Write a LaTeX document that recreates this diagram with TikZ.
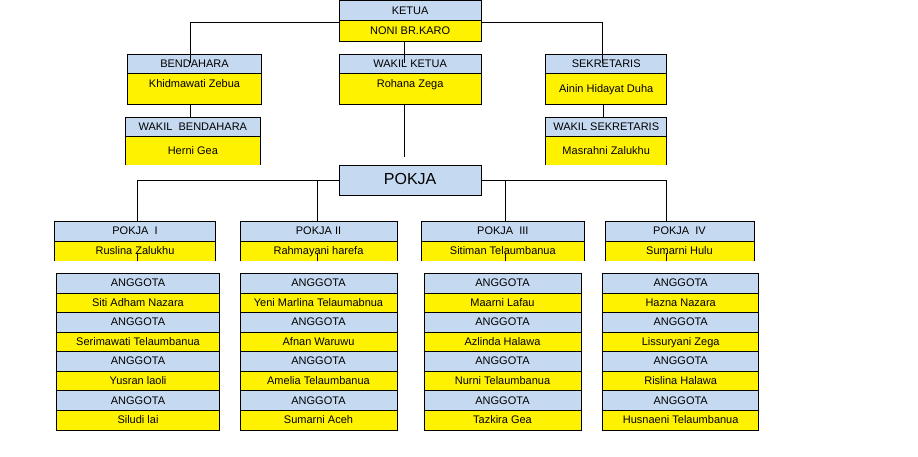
\documentclass[tikz,border=0pt]{standalone}
\usepackage{fontspec}
\setmainfont{Liberation Sans}
\definecolor{hdrblue}{RGB}{197,217,241}
\tikzset{
  box/.style={rectangle, draw, line width=0.8pt, inner sep=0pt, outer sep=0pt,
    anchor=north west, text height=8.8pt, text depth=2pt,
    font=\fontsize{11}{13}\selectfont},
  hdr/.style={box, fill=hdrblue},
  nm/.style={box, fill=yellow},
  nobase/.style={draw=none},
  link/.style={line width=0.8pt},
}
\begin{document}
\begin{tikzpicture}[x=1pt,y=1pt]
   \useasboundingbox (0,0) rectangle (918,-456);
   % pengurus inti
   \node[hdr, minimum width=141.7pt, minimum height=20pt] (ketua) at (339.3,-0.7) {KETUA};
   \node[nm, minimum width=141.7pt, minimum height=20.6pt] (ketuaN) at (ketua.south west) {NONI BR.KARO};
   \node[hdr, minimum width=134.4pt, minimum height=19pt] (bend) at (127.3,-54.3) {BENDAHARA};
   \node[nm, minimum width=134.4pt, minimum height=31pt, text depth=10.6pt] (bendN) at (bend.south west) {Khidmawati Zebua};
   \node[hdr, minimum width=141.7pt, minimum height=19pt] (wketua) at (339.3,-54.3) {WAKIL KETUA};
   \node[nm, minimum width=141.7pt, minimum height=31pt, text depth=10.6pt] (wketuaN) at (wketua.south west) {Rohana Zega};
   \node[hdr, minimum width=121pt, minimum height=19pt] (sekr) at (545.7,-54.3) {SEKRETARIS};
   \node[nm, minimum width=121pt, minimum height=31pt] (sekrN) at (sekr.south west) {Ainin Hidayat Duha};
   \node[hdr, minimum width=134.3pt, minimum height=19.4pt] (wbend) at (125.7,-117.3) {WAKIL~~BENDAHARA};
   \node[nm, nobase, minimum width=134.3pt, minimum height=28.3pt] (wbendN) at (wbend.south west) {Herni Gea};
   \draw[link] (wbendN.south west) |- (wbendN.north east) -- (wbendN.south east);
   \node[hdr, minimum width=121pt, minimum height=19.4pt] (wsekr) at (545.7,-117.3) {WAKIL SEKRETARIS};
   \node[nm, nobase, minimum width=121pt, minimum height=28.3pt] (wsekrN) at (wsekr.south west) {Masrahni Zalukhu};
   \draw[link] (wsekrN.south west) |- (wsekrN.north east) -- (wsekrN.south east);
   \node[hdr, minimum width=141.7pt, minimum height=29.3pt, font=\fontsize{16}{18}\selectfont,
     text height=11.5pt, text depth=3.5pt] (pokja) at (339.3,-165.7) {POKJA};
   \draw[link] ([yshift=-1.6pt]ketua.south west) -| ([xshift=-3.8pt,yshift=-8.7pt]bend.north);
   \draw[link] ([yshift=-1.6pt]ketua.south east) -| ([xshift=-3.5pt,yshift=-8.7pt]sekr.north);
   \draw[link] ([xshift=-6pt]ketuaN.south) -- ([xshift=-6pt,yshift=-8.7pt]wketua.north);
   \coordinate (wkend) at (404.2,-156.7);
   \draw[link] (wketuaN.south -| wkend) -- (wkend);
   \draw[link] ([xshift=-3.8pt]bendN.south) coordinate (b1) -- (b1 |- wbend.north);
   \draw[link] ([xshift=-2.9pt]sekrN.south) coordinate (s1) -- (s1 |- wsekr.north);
   % pokja
   \foreach \k/\px/\bw/\sh/\ttl/\nama in {1/54.3/161.4/2/POKJA~~I/Ruslina Zalukhu,
       2/240/157/-0.8/POKJA II/Rahmayani harefa, 3/421.7/162.3/2.4/POKJA~~III/Sitiman Telaumbanua,
       4/605/149/-12.8/POKJA~~IV/Sumarni Hulu} {
     \node[hdr, minimum width=\bw pt, minimum height=20pt] (pk\k) at (\px,-221) {\ttl};
     \node[nm, nobase, minimum width=\bw pt, minimum height=20pt] (pk\k N) at (pk\k.south west) {\nama};
     \draw[link] (pk\k N.south west) |- (pk\k N.north east) -- (pk\k N.south east);
     \draw[link] ([xshift=\sh pt]pk\k N.south) -- ++(0,8);
   }
   \draw[link] (pokja.west) -| ([xshift=2pt]pk1.north);
   \draw[link] (pokja.west) -| ([xshift=-0.8pt]pk2.north);
   \draw[link] (pokja.east) -| ([xshift=2.4pt]pk3.north);
   \draw[link] (pokja.east) -| ([xshift=-12.8pt]pk4.north);
   % anggota
   \foreach \k/\px/\bw/\names in {1/56.7/162.6/{Siti Adham Nazara,Serimawati Telaumbanua,Yusran laoli,Siludi lai},
       2/240/157/{Yeni Marlina Telaumabnua,Afnan Waruwu,Amelia Telaumbanua,Sumarni Aceh},
       3/424/157/{Maarni Lafau,Azlinda Halawa,Nurni Telaumbanua,Tazkira Gea},
       4/602.7/156/{Hazna Nazara,Lissuryani Zega,Rislina Halawa,Husnaeni Telaumbanua}} {
     \foreach \nama [count=\r] in \names {
       \node[hdr, minimum width=\bw pt, minimum height=19.6pt] (ag\k-\r) at (\px,{-273.3-(\r-1)*39.18}) {ANGGOTA};
       \node[nm, minimum width=\bw pt, minimum height=19.6pt] (ag\k-\r N) at (ag\k-\r.south west) {\nama};
     }
   }
\end{tikzpicture}
\end{document}
